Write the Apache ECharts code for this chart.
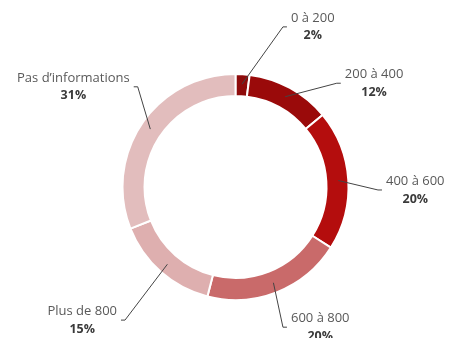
<!DOCTYPE html>
<html>
<head>
<meta charset="utf-8">
<script src="https://cdn.jsdelivr.net/npm/echarts@6/dist/echarts.min.js"></script>
<style>
  html, body { margin: 0; padding: 0; background: #fff; }
  #chart { width: 453px; height: 338px; }
</style>
</head>
<body>
<div id="chart"></div>
<script>
// Répartition par tranche (en %)
const categories = ['0 à 200', '200 à 400', '400 à 600', '600 à 800', 'Plus de 800', 'Pas d\u2019informations'];
const shares = [2, 12, 20, 20, 15, 31];
const sliceColors = ['#8e0b0b', '#9a0a0a', '#b40d0d', '#c96a6a', '#deafaf', '#e2bdbd'];

// Where each leader line bends: [angle in degrees clockwise from 12 o'clock, distance from centre]
const labelElbows = [[16.5, 167], [44.3, 145], [91.2, 142.5], [161.3, 148], [219.7, 173], [315.7, 140]];

const cx = 235.5, cy = 187;
const rIn = 91, rOut = 113;
const rLineStart = (rIn + rOut) / 2 + 1;
const tail = 4;   // horizontal end of each leader line
const gap = 4;    // space between line end and text

const total = shares.reduce((a, b) => a + b, 0);
// angle (clockwise from 12 o'clock) of the middle of each slice
const midAngles = [];
let acc = 0;
shares.forEach(v => { midAngles.push((acc + v / 2) / total * 2 * Math.PI); acc += v; });

const polar = (angle, r) => [cx + r * Math.sin(angle), cy - r * Math.cos(angle)];
const pieData = categories.map((c, i) => ({ name: c, value: shares[i] }));

const chart = echarts.init(document.getElementById('chart'), null, { renderer: 'canvas' });

chart.setOption({
  animation: false,
  color: sliceColors,
  series: [
    // coloured ring
    {
      type: 'pie',
      z: 1,
      silent: true,
      center: [cx, cy],
      radius: [rIn, rOut],
      startAngle: 90,
      clockwise: true,
      itemStyle: { borderColor: '#fff', borderWidth: 2 },
      label: { show: false },
      labelLine: { show: false },
      data: pieData
    },
    // same ring, invisible, carrying the labels so the leader lines sit above the slices
    {
      type: 'pie',
      z: 3,
      silent: true,
      center: [cx, cy],
      radius: [rIn, rOut],
      startAngle: 90,
      clockwise: true,
      avoidLabelOverlap: false,
      itemStyle: { color: 'rgba(0,0,0,0)', borderWidth: 0 },
      label: {
        show: true,
        position: 'outside',
        overflow: 'none',
        formatter: p => '{n|' + p.name + '}\n{v|' + p.value + '%}',
        rich: {
          n: { fontFamily: 'Open Sans', fontSize: 13, color: '#595959', lineHeight: 18, align: 'center' },
          v: { fontFamily: 'Open Sans', fontSize: 12.5, fontWeight: 'bold', color: '#3a3a3a', lineHeight: 18, align: 'center' }
        }
      },
      labelLine: {
        show: true,
        length: 30,
        length2: 5,
        lineStyle: { color: '#444', width: 1 }
      },
      labelLayout: function (params) {
        const i = params.dataIndex;
        const start = polar(midAngles[i], rLineStart);
        const e = labelElbows[i];
        const elbow = polar(e[0] * Math.PI / 180, e[1]);
        const right = elbow[0] >= cx;
        const end = [elbow[0] + (right ? tail : -tail), elbow[1]];
        return {
          x: end[0] + (right ? gap : -gap),
          y: end[1],
          align: right ? 'left' : 'right',
          verticalAlign: 'middle',
          labelLinePoints: [start, elbow, end]
        };
      },
      data: pieData
    }
  ]
});
</script>
</body>
</html>
